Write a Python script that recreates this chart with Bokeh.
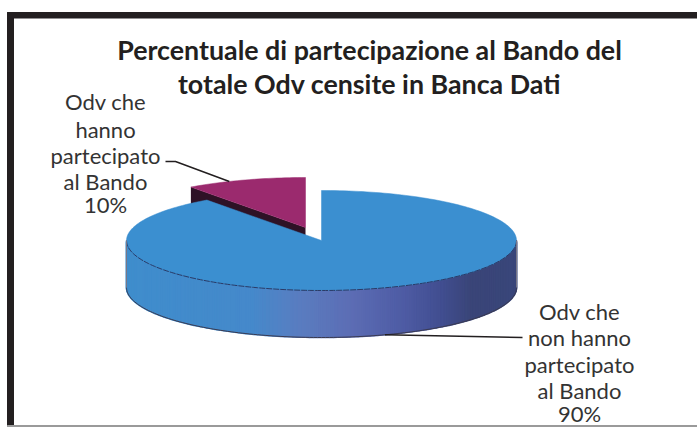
import math
from bokeh.plotting import figure
from bokeh.models import Range1d
from bokeh.core.properties import value
from bokeh.embed import file_html
from bokeh.resources import INLINE

title_lines = ["Percentuale di partecipazione al Bando del", "totale Odv censite in Banca Dati"]
slice_names = ["Odv che non hanno partecipato al Bando", "Odv che hanno partecipato al Bando"]
slice_values = [90, 10]
slice_colors = ["#3B8FD0", "#9B2A6E"]
label_blue = ["Odv che", "non hanno", "partecipato", "al Bando", "90%"]
label_purple = ["Odv che", "hanno", "partecipato", "al Bando", "10%"]
side_stops = [(126, "#3F8DCC"), (250, "#4589CB"), (300, "#5A7CC0"), (350, "#5C6DB4"),
              (400, "#4F5CA5"), (440, "#414E90"), (470, "#3A4578"), (516, "#39467A")]

CX, CY, RX, RY, DEPTH = 321, 240, 195, 50, 47
EX, EY = -16, -13
FONT = value("Lato")

p = figure(width=697, height=427, output_backend="svg", toolbar_location=None,
           x_range=Range1d(0, 697), y_range=Range1d(427, 0), min_border=0)
p.axis.visible = False
p.grid.visible = False
p.outline_line_color = None
p.background_fill_color = "white"


def pt(deg, cx=CX, cy=CY):
    a = math.radians(deg)
    return cx + RX * math.sin(a), cy - RY * math.cos(a)


def arc(d0, d1, cx=CX, cy=CY, n=120):
    return [pt(d0 + (d1 - d0) * i / n, cx, cy) for i in range(n + 1)]


def side_color(x):
    for (x0, c0), (x1, c1) in zip(side_stops, side_stops[1:]):
        if x <= x1:
            t = max(0, (x - x0) / (x1 - x0))
            rgb = [round(int(c0[i:i + 2], 16) * (1 - t) + int(c1[i:i + 2], 16) * t) for i in (1, 3, 5)]
            return "#%02X%02X%02X" % tuple(rgb)
    return side_stops[-1][1]


total = sum(slice_values)
sweep_blue = 360 * slice_values[0] / total

# frame
p.quad(left=[7], right=[13], top=[12], bottom=[425], color="#231F20")
p.quad(left=[7], right=[697], top=[12], bottom=[17.5], color="#231F20")
p.quad(left=[7], right=[697], top=[425], bottom=[427], color="#9A9A9A")

# purple slice (exploded), extruded edge first
px, py = CX + EX, CY + EY
tip = pt(sweep_blue, px, py)
p.patch([tip[0], px, px, tip[0]], [tip[1], py, py + DEPTH, tip[1] + DEPTH], color="#2E1226", line_width=0)
rim = arc(sweep_blue, 360, px, py, 30)
p.patch([px] + [a for a, _ in rim], [py] + [b for _, b in rim], fill_color=slice_colors[1], line_color=slice_colors[1], line_width=0.5)

# blue slice: side wall from slim vertical strips, overlapped so that no seams show
front = arc(90, 270, n=150)
xs, ys, cols = [], [], []
for (x0, y0), (x1, y1) in zip(front, front[1:]):
    xs.append([x0, x1, x1, x0])
    ys.append([y0, y1, y1 + DEPTH, y0 + DEPTH])
    cols.append(side_color((x0 + x1) / 2))
p.patches(xs, ys, fill_color=cols, line_color=cols, line_width=1.6)
p.line([a for a, _ in front], [b + DEPTH for _, b in front], line_color="#3A3A50", line_width=1)

# blue top face
rim = arc(0, sweep_blue, n=240)
p.patch([CX] + [a for a, _ in rim], [CY] + [b for _, b in rim], fill_color=slice_colors[0], line_color=slice_colors[0], line_width=0.5)
p.line([a for a, _ in front], [b for _, b in front], line_color="#2B3A66", line_width=1, line_dash="6 1")
e0, e1 = pt(90), pt(270)
p.segment([e0[0], e1[0]], [e0[1], e1[1]], [e0[0], e1[0]], [e0[1] + DEPTH, e1[1] + DEPTH], line_color="#777788", line_width=1)

# leaders
lp = pt(337, px, py)
p.line([165, 175, lp[0]], [161, 161, lp[1]], line_color="#231F20", line_width=1.5)
lb = pt(161)
p.line([lb[0], 522], [lb[1] + DEPTH, 337], line_color="#231F20", line_width=1.6)

# texts
p.text([369, 369], [49, 83], text=title_lines, text_font=FONT, text_font_size="26.8px",
       text_color="#231F20", text_align="center", text_baseline="middle", text_font_style="bold")
p.text([105] * 5, [101, 129, 155, 181, 204], text=label_purple, text_font=FONT, text_font_size="22px",
       text_color="#333333", text_align="center", text_baseline="middle")
p.text([579] * 5, [311, 337, 364, 390, 413], text=label_blue, text_font=FONT, text_font_size="22px",
       text_color="#333333", text_align="center", text_baseline="middle")

open("out.html", "w").write(file_html(p, INLINE))
